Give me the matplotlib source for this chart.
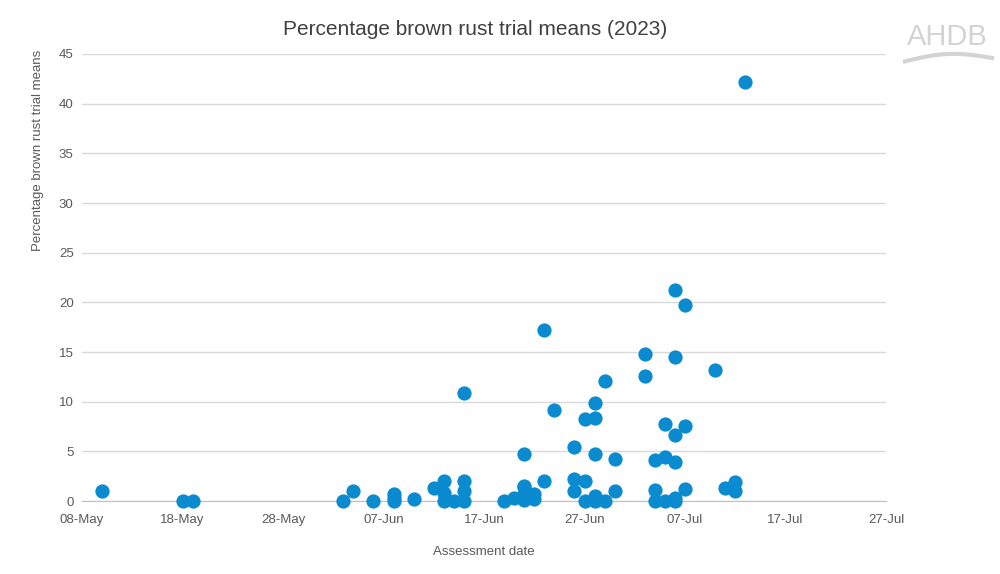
import numpy as np
import pandas as pd
import matplotlib
matplotlib.use("Agg")
import matplotlib.pyplot as plt
import matplotlib.dates as mdates

plt.rcParams['font.family'] = ['Liberation Sans', 'DejaVu Sans']

# assessment dates and trial means
dates = ["2023-05-10",
         "2023-05-18", "2023-05-19",
         "2023-06-03", "2023-06-04", "2023-06-06",
         "2023-06-08", "2023-06-08", "2023-06-08",
         "2023-06-10", "2023-06-12",
         "2023-06-13", "2023-06-13", "2023-06-13",
         "2023-06-14",
         "2023-06-15", "2023-06-15", "2023-06-15", "2023-06-15",
         "2023-06-19", "2023-06-20",
         "2023-06-21", "2023-06-21", "2023-06-21", "2023-06-21", "2023-06-21",
         "2023-06-22", "2023-06-22",
         "2023-06-23", "2023-06-23",
         "2023-06-24",
         "2023-06-26", "2023-06-26", "2023-06-26",
         "2023-06-27", "2023-06-27", "2023-06-27",
         "2023-06-28", "2023-06-28", "2023-06-28", "2023-06-28", "2023-06-28",
         "2023-06-29", "2023-06-29",
         "2023-06-30", "2023-06-30",
         "2023-07-03", "2023-07-03",
         "2023-07-04", "2023-07-04", "2023-07-04",
         "2023-07-05", "2023-07-05", "2023-07-05",
         "2023-07-06", "2023-07-06", "2023-07-06", "2023-07-06", "2023-07-06", "2023-07-06",
         "2023-07-07", "2023-07-07", "2023-07-07",
         "2023-07-10", "2023-07-11",
         "2023-07-12", "2023-07-12",
         "2023-07-13"]
means = [1.0,
         0.0, 0.0,
         0.0, 1.0, 0.0,
         0.7, 0.3, 0.0,
         0.2, 1.3,
         2.0, 0.8, 0.0,
         0.0,
         10.9, 2.0, 1.0, 0.0,
         0.0, 0.3,
         4.7, 1.5, 1.4, 0.7, 0.1,
         0.7, 0.2,
         17.2, 2.0,
         9.2,
         5.4, 2.2, 1.0,
         8.3, 2.0, 0.0,
         9.9, 8.4, 4.7, 0.5, 0.0,
         12.1, 0.0,
         4.2, 1.0,
         14.8, 12.6,
         4.1, 1.1, 0.0,
         7.8, 4.4, 0.0,
         21.2, 14.5, 6.7, 3.9, 0.3, 0.0,
         19.7, 7.6, 1.2,
         13.2, 1.3,
         1.9, 1.0,
         42.2]

x = pd.to_datetime(dates)
text_col = "#595959"

fig = plt.figure(figsize=(10, 5.74), dpi=100)
ax = fig.add_axes([0.082, 0.127, 0.804, 0.779])

ax.scatter(x, means, s=105, color="#0a8bd0", zorder=3, linewidths=0, clip_on=False)

ax.set_xlim(pd.Timestamp("2023-05-08"), pd.Timestamp("2023-07-27"))
ax.set_ylim(0, 45)
ax.set_yticks(np.arange(0, 46, 5))
ax.set_xticks(pd.date_range("2023-05-08", "2023-07-27", freq="10D"))
ax.xaxis.set_major_formatter(mdates.DateFormatter("%d-%b"))

ax.grid(axis="y", color="#d9d9d9", linewidth=1)
ax.set_axisbelow(True)
for s in ["top", "right", "left"]:
    ax.spines[s].set_visible(False)
ax.spines["bottom"].set_color("#bfbfbf")
ax.spines["bottom"].set_zorder(0.5)
ax.tick_params(axis="both", length=0, labelsize=9.5, colors=text_col, pad=6)
ax.tick_params(axis="x", pad=9)

ax.set_xlabel("Assessment date", fontsize=9.5, color=text_col, labelpad=15)
ax.set_ylabel("Percentage brown rust trial means", fontsize=9.5, color=text_col)
ax.yaxis.set_label_coords(-0.047, 0.785)
fig.text(0.475, 0.948, "Percentage brown rust trial means (2023)", ha="center", va="center",
         fontsize=15, color="#404040")

# AHDB logo
fig.text(0.947, 0.935, "AHDB", ha="center", va="center", fontsize=21,
         color="#d3d3d3")
t = np.linspace(0, 1, 60)
fig.add_artist(plt.Line2D(0.905 + 0.087 * t, 0.893 + 0.01 * np.sin(np.pi * t) + 0.006 * t,
                          transform=fig.transFigure, color="#d3d3d3", linewidth=3))

fig.savefig("out.png", dpi=100)
